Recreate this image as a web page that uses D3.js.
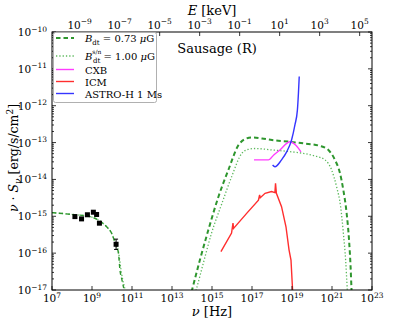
<!DOCTYPE html>
<html>
<head>
<meta charset="utf-8">
<script src="https://cdn.jsdelivr.net/npm/d3@7"></script>
<style>
body { margin: 0; background: #fff; }
svg { display: block; }
</style>
</head>
<body>
<div id="chart"></div>
<script>
// radio data (ν [Hz], νSν)
var radioNu = [1.4e8, 3.0e8, 5.9e8, 1.17e9, 1.7e9, 2.35e9, 1.6e10];
var radioS = [9.8e-16, 8.5e-16, 1.1e-15, 1.29e-15, 1.12e-15, 6.5e-16, 1.74e-16];
var radioLo = [null, null, null, null, null, null, 1.26e-16];
var radioHi = [null, null, null, null, null, null, 2.4e-16];

// B_dt = 0.73 μG (dashed)
var syncNu = [1e7, 1e8, 7.9e8, 2.5e9, 5.4e9, 9.5e9, 1.4e10, 2.1e10, 2.5e10, 3.2e10, 4.0e10, 5.0e10];
var syncS = [1.26e-15, 1.12e-15, 9.8e-16, 7.4e-16, 5.2e-16, 3.5e-16, 2.0e-16, 1.0e-16, 3.5e-17, 1.8e-17, 1.0e-17, 4e-18];
var icNu = [9.5e13, 2.5e14, 6.6e14, 2.1e15, 6.6e15, 2.1e16, 4.0e16, 9.8e16, 3.2e17, 1e18, 7.9e18, 3.7e19,
            2.5e20, 6.6e20, 1.4e21, 2.5e21, 3.7e21, 5.4e21, 7.1e21, 8.5e21, 9.5e21, 1.07e22];
var icS = [8.9e-18, 6.6e-17, 4.3e-16, 3.4e-15, 1.82e-14, 8.5e-14, 1.2e-13, 1.38e-13, 1.29e-13, 1.17e-13, 1.05e-13, 9.5e-14,
           8.1e-14, 6.3e-14, 3.4e-14, 1.48e-14, 5.1e-15, 1.2e-15, 2.3e-16, 4.3e-17, 1.0e-17, 3.2e-18];

// B_dt^s/n = 1.00 μG (dotted)
var syncNu2 = [1e7, 1e8, 7.9e8, 2.5e9, 5.4e9, 9.5e9, 1.4e10, 2.1e10, 2.8e10, 3.5e10, 4.5e10, 5.5e10];
var syncS2 = [1.26e-15, 1.12e-15, 9.8e-16, 7.4e-16, 5.2e-16, 3.5e-16, 2.0e-16, 1.1e-16, 3.6e-17, 1.8e-17, 1.0e-17, 4e-18];
var icNu2 = [1.4e14, 1.7e14, 3.7e14, 9.5e14, 3.1e15, 9.5e15, 3.1e16, 6.3e16, 1.4e17, 1e18, 1e19, 3.7e19,
             1.7e20, 4.5e20, 9.5e20, 1.7e21, 2.7e21, 3.7e21, 4.8e21, 5.8e21, 6.3e21];
var icS2 = [7.9e-18, 1.12e-17, 5.4e-17, 3.5e-16, 2.2e-15, 1.17e-14, 5.1e-14, 6.5e-14, 6.9e-14, 6.3e-14, 5.6e-14, 5.1e-14,
            4.2e-14, 3.4e-14, 1.82e-14, 6.3e-15, 1.82e-15, 3.5e-16, 6.5e-17, 1.0e-17, 4e-18];

// CXB
var cxbNu = [1.26e17, 6.6e17, 1.26e18, 2.5e18, 7.9e18, 1.6e19, 2.8e19];
var cxbS = [3.4e-14, 3.4e-14, 4.7e-14, 6.3e-14, 1.05e-13, 8.3e-14, 5.6e-14];

// ICM
var icmNu = [2.8e15, 9.5e15, 1.12e16, 1.2e16, 5.4e16, 2.1e17, 2.4e17, 2.6e17, 4.5e17, 9.5e17, 1.4e18, 1.5e18,
             1.66e18, 3.0e18, 5.0e18, 7.1e18, 8.9e18, 1.07e19, 1.15e19];
var icmS = [1.1e-16, 3.5e-16, 6.5e-16, 4.7e-16, 1.2e-15, 2.75e-15, 3.8e-15, 3.2e-15, 4.2e-15, 4.7e-15, 4.4e-15, 7.9e-15,
            4.2e-15, 1.82e-15, 5.2e-16, 1.23e-16, 6.5e-17, 1.0e-17, 4e-18];

// ASTRO-H 1 Ms
var astroNu = [1.07e18, 1.4e18, 3.0e18, 5.4e18, 9.5e18, 1.4e19, 1.86e19, 2.1e19, 2.3e19];
var astroS = [2.45e-14, 2.2e-14, 3.4e-14, 5.6e-14, 1.17e-13, 3.0e-13, 7.6e-13, 2.2e-12, 6.2e-12];

var xTicks = [7, 9, 11, 13, 15, 17, 19, 21, 23];
var eTicks = [-9, -7, -5, -3, -1, 1, 3, 5];
var yTicks = [-17, -16, -15, -14, -13, -12, -11, -10];

var hKeV = 4.1357e-18; // keV per Hz

var W = 415, H = 323;
var L = 52, R = 372, T = 32, B = 290;
var serif = "DejaVu Serif";

var svg = d3.select("#chart").append("svg").attr("width", W).attr("height", H)
  .style("font-family", serif);

var x = d3.scaleLog().domain([1e7, 1e23]).range([L, R]);
var xE = d3.scaleLog().domain([1e7 * hKeV, 1e23 * hKeV]).range([L, R]);
var y = d3.scaleLog().domain([1e-17, 1e-10]).range([B, T]);

function pow10(t, e) {
  t.append("tspan").text("10");
  t.append("tspan").attr("dy", -4.5).attr("font-size", 7.5).text(e < 0 ? "\u2212" + (-e) : e);
}

svg.append("clipPath").attr("id", "clip")
  .append("rect").attr("x", L).attr("y", T).attr("width", R - L).attr("height", B - T);

var plot = svg.append("g").attr("clip-path", "url(#clip)");

function zip(a, b) { return a.map(function (v, i) { return [v, b[i]]; }); }

var line = d3.line().x(function (d) { return x(d[0]); }).y(function (d) { return y(d[1]); })
  .curve(d3.curveMonotoneX);
var lineLin = d3.line().x(function (d) { return x(d[0]); }).y(function (d) { return y(d[1]); });

var dashCol = "#2e962e", dotCol = "#5cb85c";

plot.append("path").attr("d", line(zip(syncNu2, syncS2)))
  .attr("fill", "none").attr("stroke", dotCol).attr("stroke-width", 1.3).attr("stroke-dasharray", "1.3,2");
plot.append("path").attr("d", line(zip(icNu2, icS2)))
  .attr("fill", "none").attr("stroke", dotCol).attr("stroke-width", 1.3).attr("stroke-dasharray", "1.3,2");
plot.append("path").attr("d", line(zip(syncNu, syncS)))
  .attr("fill", "none").attr("stroke", dashCol).attr("stroke-width", 1.4).attr("stroke-dasharray", "4,3");
plot.append("path").attr("d", line(zip(icNu, icS)))
  .attr("fill", "none").attr("stroke", dashCol).attr("stroke-width", 2).attr("stroke-dasharray", "4.5,3");

plot.append("path").attr("d", lineLin(zip(icmNu, icmS)))
  .attr("fill", "none").attr("stroke", "#ff2e2e").attr("stroke-width", 1.4);
plot.append("path").attr("d", line(zip(cxbNu, cxbS)))
  .attr("fill", "none").attr("stroke", "#ff3cff").attr("stroke-width", 1.4);
plot.append("path").attr("d", line(zip(astroNu, astroS)))
  .attr("fill", "none").attr("stroke", "#3535ff").attr("stroke-width", 1.4);

// radio points
for (var i = 0; i < radioNu.length; i++) {
  if (radioLo[i] != null) {
    plot.append("line").attr("x1", x(radioNu[i])).attr("x2", x(radioNu[i]))
      .attr("y1", y(radioLo[i])).attr("y2", y(radioHi[i])).attr("stroke", "#000").attr("stroke-width", 1);
    [radioLo[i], radioHi[i]].forEach(function (v) {
      plot.append("line").attr("x1", x(radioNu[i]) - 2).attr("x2", x(radioNu[i]) + 2)
        .attr("y1", y(v)).attr("y2", y(v)).attr("stroke", "#000").attr("stroke-width", 1);
    });
  }
  plot.append("rect").attr("x", x(radioNu[i]) - 2.5).attr("y", y(radioS[i]) - 2.5)
    .attr("width", 5).attr("height", 5).attr("fill", "#000");
}

// ticks
var tk = svg.append("g").attr("stroke", "#000").attr("stroke-width", 0.8);
xTicks.forEach(function (e) {
  var px = x(Math.pow(10, e));
  tk.append("line").attr("x1", px).attr("x2", px).attr("y1", B).attr("y2", B - 4);
  var t = svg.append("text").attr("x", px).attr("y", 302).attr("text-anchor", "middle").attr("font-size", 10.5);
  pow10(t, e);
});
eTicks.forEach(function (e) {
  var px = xE(Math.pow(10, e));
  tk.append("line").attr("x1", px).attr("x2", px).attr("y1", T).attr("y2", T + 4);
  var t = svg.append("text").attr("x", px).attr("y", 28.5).attr("text-anchor", "middle").attr("font-size", 10.5);
  pow10(t, e);
});
yTicks.forEach(function (e) {
  var py = y(Math.pow(10, e));
  tk.append("line").attr("x1", L).attr("x2", L + 4).attr("y1", py).attr("y2", py);
  tk.append("line").attr("x1", R).attr("x2", R - 4).attr("y1", py).attr("y2", py);
  if (e < -10) {
    for (var m = 2; m < 10; m++) {
      var pm = y(m * Math.pow(10, e));
      tk.append("line").attr("x1", L).attr("x2", L + 2).attr("y1", pm).attr("y2", pm);
      tk.append("line").attr("x1", R).attr("x2", R - 2).attr("y1", pm).attr("y2", pm);
    }
  }
  var t = svg.append("text").attr("x", 47).attr("y", py + 4).attr("text-anchor", "end").attr("font-size", 10.5);
  pow10(t, e);
});

// frame
svg.append("rect").attr("x", L).attr("y", T).attr("width", R - L).attr("height", B - T)
  .attr("fill", "none").attr("stroke", "#000").attr("stroke-width", 1);

// axis labels
var xl = svg.append("text").attr("x", 212).attr("y", 316).attr("text-anchor", "middle").attr("font-size", 13);
xl.append("tspan").attr("font-style", "italic").text("ν");
xl.append("tspan").text(" [Hz]");

var el = svg.append("text").attr("x", 212).attr("y", 15).attr("text-anchor", "middle").attr("font-size", 13);
el.append("tspan").attr("font-style", "italic").text("E");
el.append("tspan").text(" [keV]");

var yl = svg.append("text").attr("transform", "translate(18,158) rotate(-90)")
  .attr("text-anchor", "middle").attr("font-size", 12.5);
yl.append("tspan").attr("font-style", "italic").text("ν");
yl.append("tspan").text(" · ");
yl.append("tspan").attr("font-style", "italic").text("S");
yl.append("tspan").attr("dy", 3).attr("font-size", 9).attr("font-style", "italic").text("ν");
yl.append("tspan").attr("dy", -3).text(" [erg/s/cm");
yl.append("tspan").attr("dy", -5).attr("font-size", 9).text("2");
yl.append("tspan").attr("dy", 5).text("]");

svg.append("text").attr("x", 217).attr("y", 53).attr("text-anchor", "middle").attr("font-size", 13).text("Sausage (R)");

// legend
var lg = svg.append("g");
lg.append("rect").attr("x", 53.5).attr("y", 32.5).attr("width", 103).attr("height", 70).attr("rx", 2)
  .attr("fill", "#fff").attr("stroke", "#b0b0b0").attr("stroke-width", 1);
var legY = [38, 56, 69.5, 81.5, 93.5];
var legStroke = [dashCol, dotCol, "#ff3cff", "#ff2e2e", "#3535ff"];
var legDash = ["4.5,3", "1.3,2", null, null, null];
var legW = [2, 1.3, 1.4, 1.4, 1.4];
for (var j = 0; j < 5; j++) {
  lg.append("line").attr("x1", 56).attr("x2", 74).attr("y1", legY[j]).attr("y2", legY[j])
    .attr("stroke", legStroke[j]).attr("stroke-width", legW[j]).attr("stroke-dasharray", legDash[j]);
}
var t1 = lg.append("text").attr("x", 85).attr("y", legY[0] + 4).attr("font-size", 10);
t1.append("tspan").attr("font-style", "italic").text("B");
t1.append("tspan").attr("dy", 2.5).attr("font-size", 7).text("dt");
t1.append("tspan").attr("dy", -2.5).text(" = 0.73 ");
t1.append("tspan").attr("font-style", "italic").text("μ");
t1.append("tspan").text("G");

var t2 = lg.append("text").attr("x", 85).attr("y", legY[1] + 4).attr("font-size", 10);
t2.append("tspan").attr("font-style", "italic").text("B");
t2.append("tspan").attr("dy", -6).attr("font-size", 6).text("s/n");
t2.append("tspan").attr("x", 93).attr("dy", 9).attr("font-size", 7).text("dt");
t2.append("tspan").attr("dy", -3).text(" = 1.00 ");
t2.append("tspan").attr("font-style", "italic").text("μ");
t2.append("tspan").text("G");

["CXB", "ICM", "ASTRO-H 1 Ms"].forEach(function (s, k) {
  lg.append("text").attr("x", 85).attr("y", legY[k + 2] + 4).attr("font-size", 10).text(s);
});
</script>
</body>
</html>
